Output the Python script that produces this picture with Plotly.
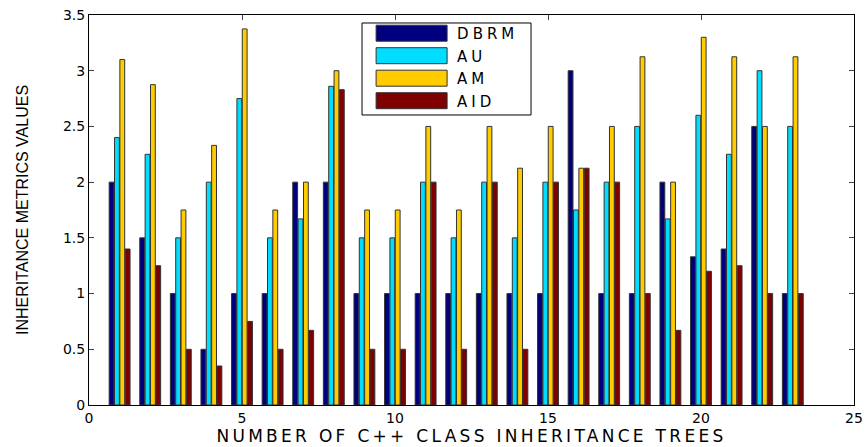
import plotly.graph_objects as go

trees = list(range(1, 24))
dbrm = [2, 1.5, 1, 0.5, 1, 1, 2, 2, 1, 1, 1, 1, 1, 1, 1, 3, 1, 1, 2, 1.33, 1.4, 2.5, 1]
au = [2.4, 2.25, 1.5, 2, 2.75, 1.5, 1.67, 2.86, 1.5, 1.5, 2, 1.5, 2, 1.5, 2, 1.75, 2, 2.5, 1.67, 2.6, 2.25, 3, 2.5]
am = [3.1, 2.875, 1.75, 2.33, 3.375, 1.75, 2, 3, 1.75, 1.75, 2.5, 1.75, 2.5, 2.125, 2.5, 2.125, 2.5, 3.125, 2, 3.3, 3.125, 2.5, 3.125]
aid = [1.4, 1.25, 0.5, 0.35, 0.75, 0.5, 0.67, 2.83, 0.5, 0.5, 2, 0.5, 2, 0.5, 2, 2.125, 2, 1, 0.67, 1.2, 1.25, 1, 1]

series = [("DBRM", dbrm, "#00007F"), ("AU", au, "#00DDFF"), ("AM", am, "#FFCC00"), ("AID", aid, "#7F0000")]

fig = go.Figure()
for name, vals, col in series:
    fig.add_trace(go.Bar(x=trees, y=vals, name=name, marker=dict(color=col, line=dict(color="#333333", width=1))))

font = "DejaVu Sans, Liberation Sans, Arial, sans-serif"
fig.update_layout(
    width=867, height=447,
    margin=dict(l=89, r=13, t=15, b=42),
    plot_bgcolor="white", paper_bgcolor="white",
    barmode="group", bargap=0.3, bargroupgap=0.1,
    font=dict(family=font, size=14, color="black"),
    showlegend=True,
    legend=dict(x=0.357, y=0.995, xanchor="left", yanchor="top",
                borderwidth=0, bgcolor="rgba(0,0,0,0)",
                font=dict(size=15), itemwidth=85, tracegroupgap=0),
    shapes=[dict(type="rect", xref="paper", yref="paper", x0=0.3569, x1=0.5778, y0=0.7436, y1=0.9795,
                 line=dict(color="black", width=1), fillcolor="white", layer="above")],
    xaxis=dict(range=[0, 25], tickvals=[0, 5, 10, 15, 20, 25], ticks="inside", ticklen=5,
               showline=True, linecolor="black", linewidth=1, mirror="allticks",
               showgrid=False, zeroline=False, automargin=False,
               title=dict(text="NUMBER OF C++ CLASS INHERITANCE TREES", standoff=0, font=dict(size=17))),
    yaxis=dict(range=[0, 3.5], tickvals=[0, 0.5, 1, 1.5, 2, 2.5, 3, 3.5], ticktext=["0", "0.5", "1", "1.5", "2", "2.5", "3", "3.5"],
               ticks="inside", ticklen=5,
               showline=True, linecolor="black", linewidth=1, mirror="allticks",
               showgrid=False, zeroline=False, automargin=False,
               title=dict(text="INHERITANCE METRICS VALUES", standoff=30,
                          font=dict(size=16, family="Liberation Sans, Arial, sans-serif"))),
)

post = """
document.body.style.margin='0';
var gd=document.getElementById('{plot_id}');
function fixStyle(){
  gd.querySelectorAll('.legendpoints path').forEach(function(p){
    p.setAttribute('d','M35.5,8H-35.5V-8H35.5Z');
    p.setAttribute('transform','translate(49.5,0)');
  });
  var t=gd.querySelector('.xtitle'); if(t){t.style.letterSpacing='3.3px';}
  gd.querySelectorAll('.legendtext').forEach(function(e){e.style.letterSpacing='4px';});
  gd.querySelectorAll('clipPath').forEach(function(cp){
    if(cp.id && cp.id.indexOf('legend')>=0){
      cp.querySelectorAll('rect').forEach(function(r){r.setAttribute('width','169'); r.setAttribute('height','110');});
    }
  });
}
fixStyle();
gd.on('plotly_afterplot', fixStyle);
setTimeout(fixStyle, 30);
setTimeout(fixStyle, 200);
"""

fig.write_html("out.html", post_script=post, config={"displayModeBar": False})
